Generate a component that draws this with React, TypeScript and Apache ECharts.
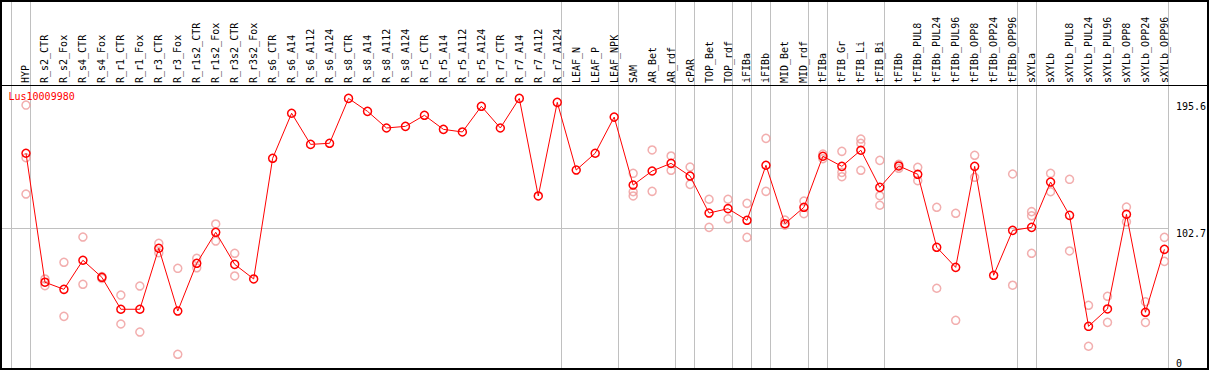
import React, { useEffect, useRef } from "react";
import * as echarts from "echarts";

const geneId = "Lus10009980";

const categories = [
  "HYP", "R_s2_CTR", "R_s2_Fox", "R_s4_CTR", "R_s4_Fox", "R_r1_CTR", "R_r1_Fox", "R_r3_CTR", "R_r3_Fox",
  "R_r1s2_CTR", "R_r1s2_Fox", "R_r3s2_CTR", "R_r3s2_Fox", "R_s6_CTR", "R_s6_A14", "R_s6_A112", "R_s6_A124",
  "R_s8_CTR", "R_s8_A14", "R_s8_A112", "R_s8_A124", "R_r5_CTR", "R_r5_A14", "R_r5_A112", "R_r5_A124",
  "R_r7_CTR", "R_r7_A14", "R_r7_A112", "R_r7_A124", "LEAF_N", "LEAF_P", "LEAF_NPK", "SAM", "AR_Bet", "AR_rdf",
  "cPAR", "TOP_Bet", "TOP_rdf", "iFIBa", "iFIBb", "MID_Bet", "MID_rdf", "tFIBa", "tFIB_Gr", "tFIB_Li", "tFIB_Bi",
  "tFIBb", "tFIBb_PUL8", "tFIBb_PUL24", "tFIBb_PUL96", "tFIBb_OPP8", "tFIBb_OPP24", "tFIBb_OPP96", "sXYLa",
  "sXYLb", "sXYLb_PUL8", "sXYLb_PUL24", "sXYLb_PUL96", "sXYLb_OPP8", "sXYLb_OPP24", "sXYLb_OPP96",
];

const means = [
  157.7, 63.2, 58.0, 79.3, 66.8, 43.4, 43.4, 88.1, 42.1, 77.1, 99.8, 76.3, 65.6, 154.0, 187.0, 164.2, 165.0,
  197.9, 188.4, 176.2, 177.4, 185.5, 175.2, 173.3, 192.1, 176.2, 197.9, 126.4, 195.0, 145.4, 157.7, 184.2,
  134.4, 144.7, 150.3, 141.0, 113.9, 117.1, 108.6, 148.9, 106.1, 118.1, 155.5, 148.1, 159.9, 132.7,
  148.4, 142.3, 88.8, 74.1, 148.1, 68.3, 101.2, 103.4, 136.6, 112.2, 30.9, 43.6, 113.0, 41.2, 87.3,
];

const replicates: number[][] = [
  [193.0, 154.4, 127.8], [65.6, 60.7], [77.8, 38.2], [96.3, 61.7], [67.3, 66.0], [53.8, 32.6], [60.4, 26.7],
  [91.7, 84.8], [73.4, 10.4], [80.7, 73.8], [105.9, 93.4], [84.4, 67.8], [],
  [], [], [], [], [], [], [], [], [], [], [], [], [], [], [], [], [], [], [],
  [143.0, 129.5, 126.4], [160.1, 129.8], [155.7, 145.2], [147.6, 134.9], [124.0, 103.4], [124.0, 109.7],
  [121.0, 96.1], [168.6, 129.8], [108.8, 105.1], [122.7, 113.4], [157.1, 153.7], [159.1, 143.7, 140.5],
  [168.1, 165.0, 145.2], [152.5, 126.6, 119.6], [149.6, 146.7], [147.4, 137.6], [118.1, 58.8], [113.7, 35.3],
  [156.2, 140.1], [], [142.5, 61.0], [114.9, 111.9, 84.4], [143.0, 129.5], [138.6, 86.1], [46.3, 16.3],
  [52.9, 33.8], [118.3, 107.5], [48.9, 33.8], [96.1, 78.5],
];

const groupEnds = [
  "HYP", "R_r7_A124", "LEAF_NPK", "AR_rdf", "cPAR", "TOP_rdf", "iFIBa", "iFIBb", "MID_rdf", "tFIBa",
  "tFIB_Bi", "tFIBb_OPP96", "sXYLa", "sXYLb_OPP96",
];

const yLabelValues = [102.7, 195.6];
const yZeroLabel = [0];
const gridLineValue = 102.7;
const yMax = 207.7;

const FONT = "DejaVu Sans Mono";

export default function App() {
  const ref = useRef<HTMLDivElement>(null);

  useEffect(() => {
    document.body.style.margin = "0";
    document.body.style.overflow = "hidden";
    const chart = echarts.init(ref.current!, null, { renderer: "svg" });

    const repData: [string, number][] = [];
    replicates.forEach((arr, i) => arr.forEach((v) => repData.push([categories[i], v])));

    const labelStyle = { fontFamily: FONT, fontSize: 10, color: "#000" };

    chart.setOption({
      animation: false,
      grid: { left: 16.5, right: 32.9, top: 85, bottom: 1.5, containLabel: false },
      xAxis: {
        type: "category",
        data: categories,
        position: "top",
        boundaryGap: true,
        axisLine: { show: false },
        axisTick: { show: false },
        splitLine: { show: false },
        axisLabel: { ...labelStyle, interval: 0, rotate: 90, margin: 2 },
      },
      yAxis: [
        {
          type: "value",
          min: 0,
          max: yMax,
          position: "right",
          axisLine: { show: false },
          axisTick: { show: false },
          splitLine: { show: false },
          axisLabel: {
            ...labelStyle,
            customValues: yLabelValues,
            verticalAlign: "top",
            margin: 2,
            formatter: (v: number) => String(v),
          },
        },
        {
          type: "value",
          min: 0,
          max: yMax,
          position: "right",
          axisLine: { show: false },
          axisTick: { show: false },
          splitLine: { show: false },
          axisLabel: {
            ...labelStyle,
            customValues: yZeroLabel,
            verticalAlign: "bottom",
            margin: 2,
            formatter: (v: number) => String(v),
          },
        },
      ],
      series: [
        {
          type: "scatter",
          data: repData,
          symbol: "circle",
          symbolSize: 8,
          itemStyle: { color: "rgba(0,0,0,0)", borderColor: "#ef9a9a", borderWidth: 1.5 },
          z: 2,
        },
        {
          type: "line",
          data: means,
          symbol: "circle",
          symbolSize: 8,
          showSymbol: true,
          lineStyle: { color: "#ff0000", width: 1 },
          itemStyle: { color: "rgba(0,0,0,0)", borderColor: "#ff0000", borderWidth: 1.5 },
          z: 3,
        },
      ],
    });

    const cx = (name: string) => chart.convertToPixel({ xAxisIndex: 0 }, name) as number;
    const band = cx(categories[1]) - cx(categories[0]);
    const off = 4.5;
    const crisp = (x: number) => Math.round(x - 0.5) + 0.5;
    const vxs = [cx(categories[0]) - band + off, ...groupEnds.map((n) => cx(n) + off)].map(crisp);
    const yGrid = Math.floor(chart.convertToPixel({ yAxisIndex: 0 }, gridLineValue) as number) + 0.5;
    const lastX = vxs[vxs.length - 1];

    const graphics: any[] = vxs.map((x) => ({
      type: "line",
      shape: { x1: x, y1: 0, x2: x, y2: 369 },
      style: { stroke: "#c0c0c0", lineWidth: 1 },
      z: 0,
      silent: true,
    }));
    graphics.push({
      type: "line",
      shape: { x1: 0, y1: yGrid, x2: lastX, y2: yGrid },
      style: { stroke: "#c0c0c0", lineWidth: 1 },
      z: 0,
      silent: true,
    });
    graphics.push({
      type: "line",
      shape: { x1: 0, y1: 85.5, x2: 1209, y2: 85.5 },
      style: { stroke: "#000", lineWidth: 1 },
      z: 10,
      silent: true,
    });
    graphics.push({
      type: "rect",
      shape: { x: 1, y: 1, width: 1207, height: 368 },
      style: { stroke: "#000", lineWidth: 2, fill: "none" },
      z: 10,
      silent: true,
    });
    graphics.push({
      type: "text",
      x: 8.5,
      y: 91,
      style: { text: geneId, fill: "#ff0000", font: `10px '${FONT}'`, textVerticalAlign: "top" },
      z: 10,
      silent: true,
    });

    chart.setOption({ graphic: graphics });

    return () => chart.dispose();
  }, []);

  return <div ref={ref} style={{ width: 1209, height: 370 }} />;
}
